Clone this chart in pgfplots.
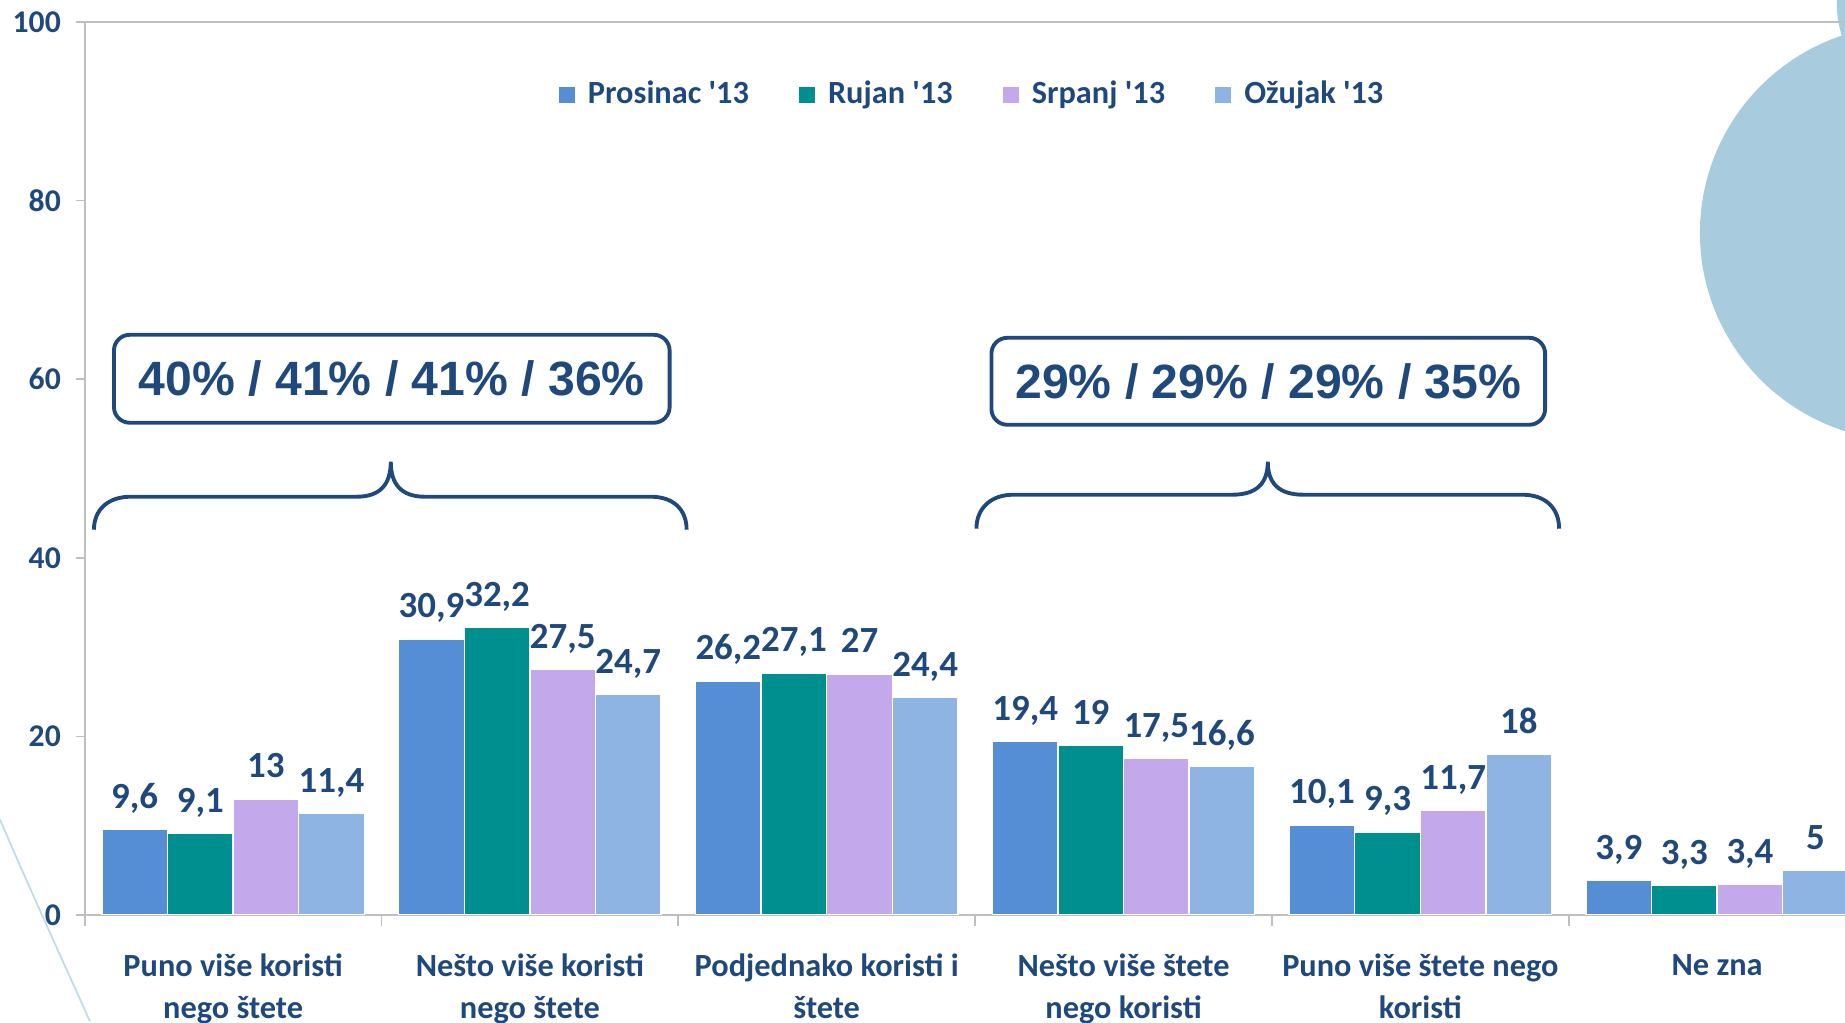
\documentclass[border=0pt]{standalone}
\usepackage{fontspec}
\setmainfont{Carlito}
\newfontfamily\arialfont{Liberation Sans}
\usepackage{graphicx}
\usepackage{pgfplots}
\pgfplotsset{compat=1.18}
\definecolor{txt}{HTML}{1F497D}
\definecolor{cA}{HTML}{558ED5}
\definecolor{cB}{HTML}{008F8F}
\definecolor{cC}{HTML}{C3A9EB}
\definecolor{cD}{HTML}{8EB4E3}
\definecolor{circ}{HTML}{A9CBDE}
\definecolor{arcl}{HTML}{BFDCE8}
\definecolor{axgray}{HTML}{BFBFBF}
\begin{document}
\begin{tikzpicture}
\useasboundingbox (0,0) rectangle (18.45,10.22);
\clip (0,0) rectangle (18.45,10.22);
\begin{scope}[shift={(0,10.22)}, x=0.01cm, y=-0.01cm]
  \fill[circ] (1909,233) circle[radius=2.08cm];
  \fill[circ] (1935,5) circle[radius=0.97cm];
  \draw[arcl, line width=0.5pt] (0,820) .. controls (30,890) and (60,955) .. (90,1022);
\end{scope}
\begin{axis}[
  at={(0.847cm,1.07cm)}, anchor=south west,
  scale only axis, width=17.66cm, height=8.93cm,
  xmin=-0.5, xmax=5.45, ymin=0, ymax=100,
  ybar=0pt, bar width=0.221,
  axis line style={axgray, line width=0.5pt},
  ytick={0,20,40,60,80,100},
  ytick pos=left, xtick pos=bottom,
  tick align=outside,
  major tick length=2.6pt,
  tick style={axgray, line width=0.5pt},
  xtick={0,1,2,3,4,5},
  major x tick style={draw=none},
  minor xtick={-0.5,0.5,1.5,2.5,3.5,4.5},
  minor tick length=3pt,
  xticklabels={{Puno više koristi\\nego štete},{Nešto više koristi\\nego štete},{Podjednako koristi i\\štete},{Nešto više štete\\nego koristi},{Puno više štete nego\\koristi},{Ne zna}},
  xticklabel style={font=\bfseries\fontsize{9.2}{11.9}\selectfont, text=txt, align=center, anchor=north, yshift=-5pt},
  yticklabel style={font=\bfseries\fontsize{9}{10}\selectfont, text=txt, anchor=east, inner sep=0pt, xshift=-4pt},
  /pgf/number format/assume math mode=true,
  /pgf/number format/use comma,
  nodes near coords,
  every node near coord/.append style={font=\bfseries\fontsize{10.5}{12}\selectfont, text=txt, anchor=base, inner sep=0pt, yshift=6pt},
  legend style={at={(0.504,0.918)}, anchor=center, draw=none, fill=none, legend columns=4,
    font=\bfseries\fontsize{9.2}{11}\selectfont, text=txt,
    /tikz/every odd column/.append style={column sep=1.7pt},
    /tikz/every even column/.append style={column sep=12.3pt}},
  legend image code/.code={\fill[#1, draw=none] (0pt,-2.2pt) rectangle (4.5pt,2.3pt);},
]
\addplot[fill=cA, draw=white, line width=0.4pt] coordinates {(0,9.6) (1,30.9) (2,26.2) (3,19.4) (4,10.1) (5,3.9)};
\addplot[fill=cB, draw=white, line width=0.4pt] coordinates {(0,9.1) (1,32.2) (2,27.1) (3,19) (4,9.3) (5,3.3)};
\addplot[fill=cC, draw=white, line width=0.4pt] coordinates {(0,13) (1,27.5) (2,27) (3,17.5) (4,11.7) (5,3.4)};
\addplot[fill=cD, draw=white, line width=0.4pt] coordinates {(0,11.4) (1,24.7) (2,24.4) (3,16.6) (4,18) (5,5)};
\legend{Prosinac \textquotesingle13, Rujan \textquotesingle13, Srpanj \textquotesingle13, Ožujak \textquotesingle13}
\end{axis}
\begin{scope}[shift={(0,10.22)}, x=0.01cm, y=-0.01cm]
  \draw[txt, line width=1.1pt, rounded corners=4.5pt] (114,335) rectangle (670,423);
  \draw[txt, line width=1.1pt, rounded corners=4.5pt] (992,338) rectangle (1546,425);
  \node[txt, font=\arialfont\bfseries\fontsize{13.7}{15}\selectfont] at (392,379) {40\% / 41\% / 41\% / 36\%};
  \node[txt, font=\arialfont\bfseries\fontsize{13.7}{15}\selectfont] at (1269,381.5) {29\% / 29\% / 29\% / 35\%};
  \draw[txt, line width=1.1pt] (94,530) .. controls (94,510) and (108,497) .. (131,497) -- (357,497)
     .. controls (380,497) and (391,485) .. (391,462) .. controls (391,485) and (402,497) .. (425,497)
     -- (651,497) .. controls (674,497) and (687,510) .. (687,530);
  \draw[txt, line width=1.1pt] (977,529) .. controls (977,509) and (991,495) .. (1014,495) -- (1233,495)
     .. controls (1257,495) and (1268.5,484) .. (1268.5,462) .. controls (1268.5,484) and (1280,495) .. (1304,495)
     -- (1523,495) .. controls (1547,495) and (1560,509) .. (1560,529);
\end{scope}
\end{tikzpicture}
\end{document}
